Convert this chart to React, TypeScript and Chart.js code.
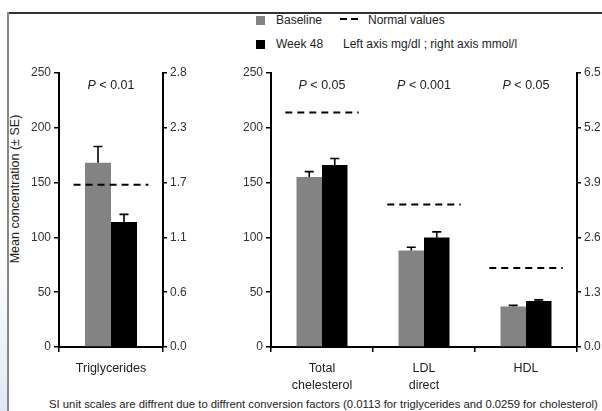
import React, { useEffect, useRef } from "react";
import { Chart, registerables } from "chart.js";

Chart.register(...registerables);

const FONT = "'Liberation Sans', Arial, Helvetica, sans-serif";

// ---- Data ----
const triCategories = ["Triglycerides"];
const triBaseline = [168];
const triBaselineSE = [15];
const triWeek48 = [114];
const triWeek48SE = [7];
const triNormal = [148];
const triP = ["0.01"];
const triMmolTicks = ["0.0", "0.6", "1.1", "1.7", "2.3", "2.8"];

const cholCategories = [["Total", "chelesterol"], ["LDL", "direct"], ["HDL"]];
const cholBaseline = [155, 88, 37];
const cholBaselineSE = [5, 3, 1];
const cholWeek48 = [166, 100, 42];
const cholWeek48SE = [6, 5, 1];
const cholNormal = [214, 130, 72];
const cholP = ["0.05", "0.001", "0.05"];
const cholMmolTicks = ["0.0", "1.3", "2.6", "3.9", "5.2", "6.5"];

const mgdlMin = 0;
const mgdlMax = 250;
const mgdlStep = 50;

const seriesNames = ["Baseline", "Week 48"];
const seriesColors = ["#838383", "#000000"];

type PanelProps = {
  left: number;
  top: number;
  width: number;
  height: number;
  leftAxisWidth: number;
  rightAxisWidth: number;
  padTop: number;
  xAxisHeight: number;
  categories: any[];
  baseline: number[];
  baselineSE: number[];
  week48: number[];
  week48SE: number[];
  normal: number[];
  pvals: string[];
  mmolTicks: string[];
};

function Panel(p: PanelProps) {
  const ref = useRef<HTMLCanvasElement | null>(null);
  useEffect(() => {
    if (!ref.current) return;
    const ses = [p.baselineSE, p.week48SE];
    const overlay = {
      id: "overlay",
      afterDraw(chart: any) {
        const ctx = chart.ctx;
        const xs = chart.scales.x;
        const ys = chart.scales.y;
        // error bars
        ses.forEach((se, di) => {
          const meta = chart.getDatasetMeta(di);
          meta.data.forEach((bar: any, i: number) => {
            const v = chart.data.datasets[di].data[i] as number;
            const topPx = ys.getPixelForValue(v + se[i]);
            ctx.save();
            ctx.strokeStyle = "#000";
            ctx.lineWidth = 1.6;
            ctx.beginPath();
            ctx.moveTo(bar.x, bar.y);
            ctx.lineTo(bar.x, topPx);
            ctx.moveTo(bar.x - 4.5, topPx);
            ctx.lineTo(bar.x + 4.5, topPx);
            ctx.stroke();
            ctx.restore();
          });
        });
        // normal value dashed lines
        const cw = xs.width / p.categories.length;
        p.normal.forEach((n, i) => {
          const cx = xs.getPixelForValue(i);
          const py = ys.getPixelForValue(n);
          ctx.save();
          ctx.strokeStyle = "#000";
          ctx.lineWidth = 2;
          ctx.setLineDash([7, 5]);
          ctx.beginPath();
          ctx.moveTo(cx - cw * 0.36, py);
          ctx.lineTo(cx + cw * 0.36, py);
          ctx.stroke();
          ctx.restore();
        });
        // P labels
        p.pvals.forEach((pv, i) => {
          const cx = xs.getPixelForValue(i);
          const py = chart.chartArea.top + 13;
          ctx.save();
          ctx.fillStyle = "#222";
          ctx.textBaseline = "middle";
          ctx.font = `italic 12.5px ${FONT}`;
          const w1 = ctx.measureText("P").width;
          ctx.font = `12.5px ${FONT}`;
          const rest = " < " + pv;
          const w2 = ctx.measureText(rest).width;
          const x0 = cx - (w1 + w2) / 2;
          ctx.font = `italic 12.5px ${FONT}`;
          ctx.textAlign = "left";
          ctx.fillText("P", x0, py);
          ctx.font = `12.5px ${FONT}`;
          ctx.fillText(rest, x0 + w1, py);
          ctx.restore();
        });
      },
    };

    const chart = new Chart(ref.current, {
      type: "bar",
      data: {
        labels: p.categories,
        datasets: [
          {
            label: seriesNames[0],
            data: p.baseline,
            backgroundColor: seriesColors[0],
            categoryPercentage: 0.5,
            barPercentage: 1.0,
            yAxisID: "y",
          },
          {
            label: seriesNames[1],
            data: p.week48,
            backgroundColor: seriesColors[1],
            categoryPercentage: 0.5,
            barPercentage: 1.0,
            yAxisID: "y",
          },
        ],
      },
      options: {
        responsive: false,
        animation: false,
        layout: { padding: { top: p.padTop, left: 0, right: 0, bottom: 0 } },
        plugins: {
          legend: { display: false },
          tooltip: { enabled: false },
        },
        scales: {
          x: {
            offset: true,
            grid: {
              offset: true,
              drawOnChartArea: false,
              drawTicks: true,
              tickLength: 5,
              color: "#000",
              lineWidth: 1.5,
            },
            border: { display: true, color: "#000", width: 2 },
            ticks: {
              color: "#222",
              font: { family: FONT, size: 12.5, lineHeight: 1.35 },
              padding: 8,
              maxRotation: 0,
              autoSkip: false,
            },
            afterFit: (s: any) => {
              s.height = p.xAxisHeight;
            },
          },
          y: {
            position: "left",
            min: mgdlMin,
            max: mgdlMax,
            ticks: {
              stepSize: mgdlStep,
              color: "#333",
              font: { family: FONT, size: 12 },
              padding: 3,
            },
            grid: {
              drawOnChartArea: false,
              drawTicks: true,
              tickLength: 5,
              color: "#000",
              lineWidth: 1.5,
            },
            border: { display: true, color: "#000", width: 2 },
            afterFit: (s: any) => {
              s.width = p.leftAxisWidth;
            },
          },
          y2: {
            position: "right",
            min: mgdlMin,
            max: mgdlMax,
            ticks: {
              stepSize: mgdlStep,
              color: "#333",
              font: { family: FONT, size: 12 },
              padding: 3,
              callback: (_v: any, idx: number) => p.mmolTicks[idx],
            },
            grid: {
              drawOnChartArea: false,
              drawTicks: true,
              tickLength: 4,
              color: "#000",
              lineWidth: 1.5,
            },
            border: { display: true, color: "#000", width: 2 },
            afterFit: (s: any) => {
              s.width = p.rightAxisWidth;
            },
          },
        },
      },
      plugins: [overlay],
    } as any);
    return () => chart.destroy();
  }, []);
  return (
    <canvas
      ref={ref}
      width={p.width}
      height={p.height}
      style={{ position: "absolute", left: p.left, top: p.top, width: p.width, height: p.height }}
    />
  );
}

const textStyle = (size: number): React.CSSProperties => ({
  position: "absolute",
  fontFamily: FONT,
  fontSize: size,
  color: "#222",
  whiteSpace: "nowrap",
  lineHeight: 1,
});

export default function App() {
  return (
    <div
      style={{
        position: "absolute",
        left: 0,
        top: 0,
        width: 602,
        height: 411,
        overflow: "hidden",
        background: "#fff",
      }}
    >
      {/* frame */}
      <div
        style={{
          position: "absolute",
          left: 0,
          top: 250,
          width: 7,
          height: 161,
          background: "linear-gradient(#ffffff, #dfe9f4)",
        }}
      />
      <div style={{ position: "absolute", left: 7, top: 12, width: 595, height: 1.5, background: "#333" }} />
      <div style={{ position: "absolute", left: 7, top: 12, width: 1.5, height: 399, background: "#8a8a8a" }} />

      {/* legend */}
      <div style={{ position: "absolute", left: 256, top: 16, width: 9, height: 9, background: seriesColors[0] }} />
      <div style={{ ...textStyle(12), left: 276, top: 14 }}>{seriesNames[0]}</div>
      <div style={{ position: "absolute", left: 256, top: 40, width: 9, height: 9, background: seriesColors[1] }} />
      <div style={{ ...textStyle(12), left: 276, top: 38 }}>{seriesNames[1]}</div>
      <div style={{ position: "absolute", left: 340, top: 18, width: 7, height: 2, background: "#000" }} />
      <div style={{ position: "absolute", left: 351, top: 18, width: 7, height: 2, background: "#000" }} />
      <div style={{ ...textStyle(12), left: 368, top: 14 }}>Normal values</div>
      <div style={{ ...textStyle(12), left: 343, top: 38 }}>Left axis mg/dl ; right axis mmol/l</div>

      {/* y-axis title */}
      <div
        style={{
          ...textStyle(12.5),
          left: 15,
          top: 189,
          transform: "translate(-50%, -50%) rotate(-90deg)",
        }}
      >
        Mean concentration (± SE)
      </div>

      <Panel
        left={0}
        top={60}
        width={200}
        height={330}
        leftAxisWidth={59}
        rightAxisWidth={37}
        padTop={13}
        xAxisHeight={43}
        categories={triCategories}
        baseline={triBaseline}
        baselineSE={triBaselineSE}
        week48={triWeek48}
        week48SE={triWeek48SE}
        normal={triNormal}
        pvals={triP}
        mmolTicks={triMmolTicks}
      />
      <Panel
        left={200}
        top={60}
        width={402}
        height={330}
        leftAxisWidth={71}
        rightAxisWidth={25}
        padTop={13}
        xAxisHeight={43}
        categories={cholCategories}
        baseline={cholBaseline}
        baselineSE={cholBaselineSE}
        week48={cholWeek48}
        week48SE={cholWeek48SE}
        normal={cholNormal}
        pvals={cholP}
        mmolTicks={cholMmolTicks}
      />

      {/* caption */}
      <div style={{ ...textStyle(11.3), left: 49, top: 399 }}>
        SI unit scales are diffrent due to diffrent conversion factors (0.0113 for triglycerides and 0.0259 for cholesterol)
      </div>
    </div>
  );
}
